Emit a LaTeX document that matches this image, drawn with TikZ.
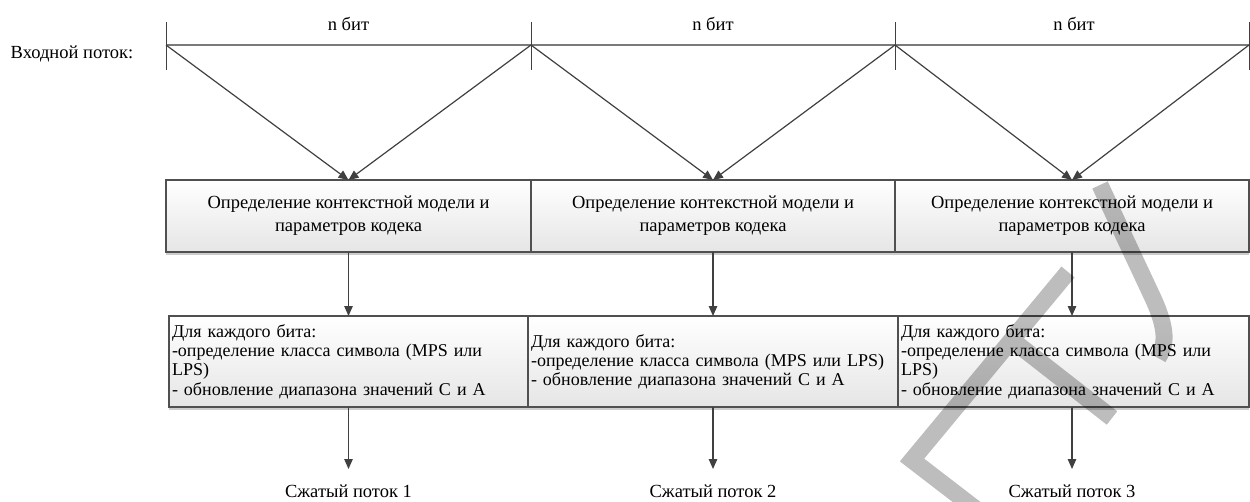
\documentclass[tikz,border=0pt]{standalone}
\usepackage{fontspec}
\setmainfont{Liberation Serif}
\usetikzlibrary{arrows.meta,shadows}
\definecolor{lc}{HTML}{404040}
\definecolor{bc}{HTML}{505050}
\definecolor{hc}{HTML}{7A7A7A}
\begin{document}
\begin{tikzpicture}[x=1pt,y=-1pt,
  font=\fontsize{18.5}{23}\selectfont,
  wire/.style={draw=lc, line width=1.2pt},
  conn/.style={wire, -{Triangle[length=10pt,width=8.5pt]}},
  tickline/.style={draw=lc, line width=1pt},
  hline/.style={draw=hc, line width=1.3pt},
  cbox/.style={draw=bc, line width=1.1pt, top color=white, bottom color=black!10,
    inner xsep=2pt, inner ysep=0pt, outer sep=0pt, anchor=north west, align=center,
    drop shadow={shadow xshift=0pt, shadow yshift=-3pt, fill=black!20, opacity=1}},
  lbox/.style={cbox, align=left, inner xsep=3pt, font=\fontsize{18}{19.2}\selectfont},
  lbl/.style={inner sep=0pt},
  outlbl/.style={anchor=north, inner xsep=0pt, inner ysep=16pt},
  wm/.style={draw=black, draw opacity=0.26, line width=17pt, line cap=butt, line join=miter}
]
\useasboundingbox (0,0) rectangle (1250,501);

% input stream
\node[lbl] (inp) at (72,54) {Входной поток:};
\coordinate (t0) at (166,45);
\coordinate (t1) at (531,45);
\coordinate (t2) at (895,45);
\coordinate (t3) at (1249,45);
\draw[hline] (t0) -- (t3);
\foreach \t in {t0,t1,t2,t3} \draw[tickline] (\t) ++(0,-23) -- ++(0,48);
\node[lbl] (n1) at (348.5,24) {n бит};
\node[lbl] (n2) at (713,24) {n бит};
\node[lbl] (n3) at (1074,24) {n бит};

% row 1
\node[cbox, minimum width=365pt, minimum height=72pt] (b11) at (166,180) {Определение контекстной модели и\\параметров кодека};
\node[cbox, minimum width=364pt, minimum height=72pt] (b12) at (531,180) {Определение контекстной модели и\\параметров кодека};
\node[cbox, minimum width=354pt, minimum height=72pt] (b13) at (895,180) {Определение контекстной модели и\\параметров кодека};

% row 2
\node[lbox, minimum width=359pt, text width=353pt, minimum height=91pt] (b21) at (169,316)
  {Для каждого бита:\\\mbox{-определение класса символа (MPS или}\\LPS)\\\mbox{- обновление диапазона значений C и A}};
\node[lbox, minimum width=370pt, text width=364pt, minimum height=91pt] (b22) at (528,316)
  {Для каждого бита:\\\mbox{-определение класса символа (MPS или LPS)}\\\mbox{- обновление диапазона значений C и A}};
\node[lbox, minimum width=351pt, text width=345pt, minimum height=91pt] (b23) at (898,316)
  {Для каждого бита:\\\mbox{-определение класса символа (MPS или}\\LPS)\\\mbox{- обновление диапазона значений C и A}};

% outputs
\node[outlbl] (o1) at (348.5,469) {Сжатый поток 1};
\node[outlbl] (o2) at (713,469) {Сжатый поток 2};
\node[outlbl] (o3) at (1072,469) {Сжатый поток 3};

% connectors
\draw[conn] (t0) -- (b11.north);
\draw[conn] (t1) -- (b11.north);
\draw[conn] (t1) -- (b12.north);
\draw[conn] (t2) -- (b12.north);
\draw[conn] (t2) -- (b13.north);
\draw[conn] (t3) -- (b13.north);
\draw[conn] (b11.south) -- (b11.south |- b21.north);
\draw[conn] (b12.south) -- (b12.south |- b22.north);
\draw[conn] (b13.south) -- (b13.south |- b23.north);
\draw[conn] (b21.south -| o1.north) -- (o1.north);
\draw[conn] (b22.south -| o2.north) -- (o2.north);
\draw[conn] (b23.south -| o3.north) -- (o3.north);

% watermark
\draw[wm] (1068,272) -- (912,460) -- (990,520) (1012,340) -- (1112,418);
\draw[wm] (1100,185) -- (1152,296) .. controls (1168,330) and (1166,345) .. (1158,358);
\end{tikzpicture}
\end{document}
